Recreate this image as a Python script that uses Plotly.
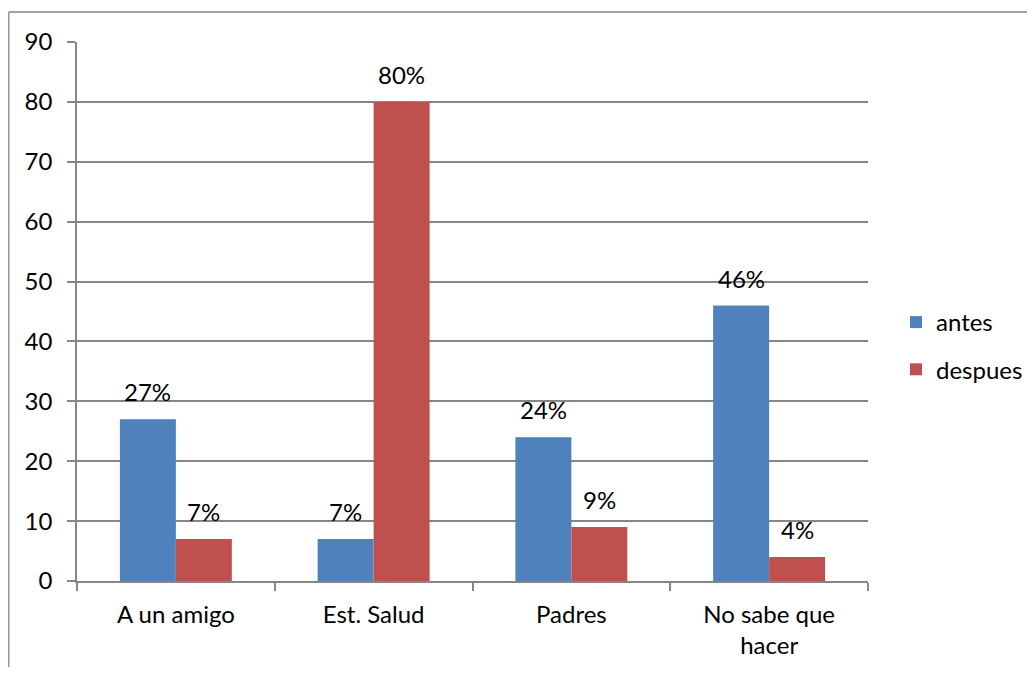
import plotly.graph_objects as go

categories = ["A un amigo", "Est. Salud", "Padres", "No sabe que<br>hacer"]
antes = [27, 7, 24, 46]
despues = [7, 80, 9, 4]
y_ticks = [0, 10, 20, 30, 40, 50, 60, 70, 80, 90]

FONT = "Lato"
FS = 24
OFF = 8  # default body margin of the page
W, H = 1035 - 2 * OFF, 675 - 2 * OFF
L, T = 77 - OFF, 42 - OFF
R = W - (868 - OFF)
B = H - (581 - OFF)
pw = W - L - R
ph = H - T - B

fig = go.Figure()
fig.add_trace(go.Bar(name="antes", x=categories, y=antes, marker_color="#4F81BD",
                     marker_line_width=0, legendgroup="a"))
fig.add_trace(go.Bar(name="despues", x=categories, y=despues, marker_color="#C0504D",
                     marker_line_width=0, legendgroup="b"))

annotations = []
for vals, shift in ((antes, -28), (despues, 28)):
    for c, v in zip(categories, vals):
        annotations.append(dict(x=c, y=v, xref="x", yref="y", text=f"{v}%", showarrow=False,
                                yanchor="bottom", xshift=shift, yshift=11,
                                font=dict(family=FONT, size=FS, color="#000000")))

bx = (8 - OFF - L) / pw + 0.001
ty = 1 + (T - (12 - OFF)) / ph
shapes = [
    dict(type="line", xref="paper", yref="paper", x0=bx, x1=bx, y0=-0.5, y1=ty,
         line=dict(color="#868686", width=1.3)),
    dict(type="line", xref="paper", yref="paper", x0=bx, x1=2, y0=ty, y1=ty,
         line=dict(color="#868686", width=1.3)),
]

fig.update_layout(
    width=W, height=H,
    margin=dict(l=L, r=R, t=T, b=B, autoexpand=False),
    paper_bgcolor="white", plot_bgcolor="white",
    barmode="group", bargap=0.434, bargroupgap=0,
    font=dict(family=FONT, size=FS, color="#000000"),
    annotations=annotations, shapes=shapes,
    legend=dict(x=(896 - 77) / 791, y=(581 - 346) / 539, xanchor="left", yanchor="middle",
                traceorder="grouped", tracegroupgap=13,
                font=dict(family=FONT, size=FS, color="#000000"),
                itemwidth=30),
    xaxis=dict(showgrid=False, showline=True, linecolor="#868686", linewidth=1.5,
               ticks="outside", tickson="boundaries", ticklen=8, tickcolor="#868686",
               tickwidth=1.5, ticklabelstandoff=11,
               tickfont=dict(family=FONT, size=FS, color="#000000")),
    yaxis=dict(range=[0, 90], tickvals=y_ticks, showgrid=True, gridcolor="#868686",
               gridwidth=1.5, showline=True, linecolor="#868686", linewidth=1.5,
               ticks="outside", ticklen=8, tickcolor="#868686", tickwidth=1.5,
               ticklabelstandoff=10,
               zeroline=False, tickfont=dict(family=FONT, size=FS, color="#000000")),
)

fig.write_html("out.html")
